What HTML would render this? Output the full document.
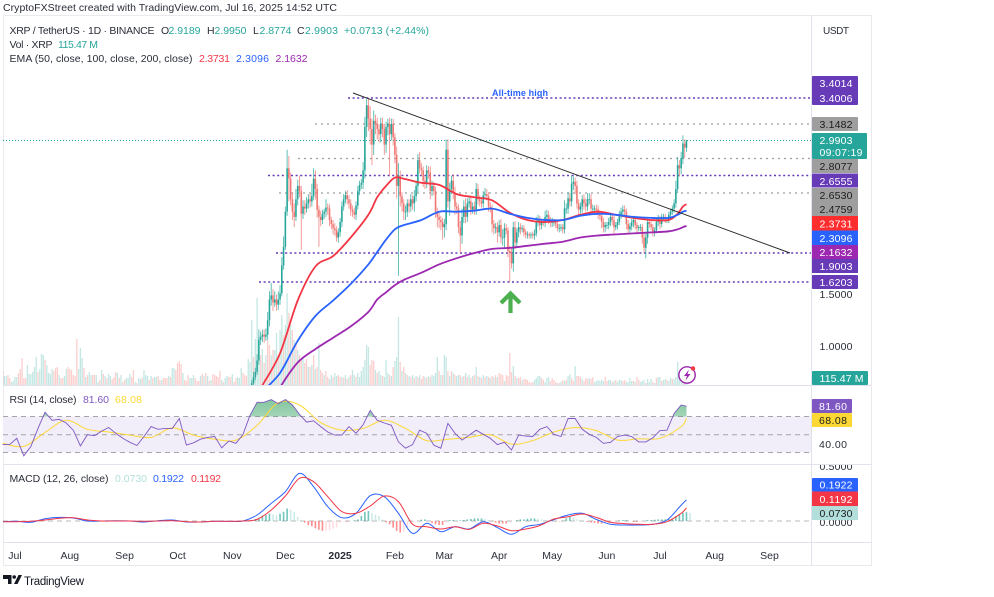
<!DOCTYPE html>
<html lang="en">
<head>
<meta charset="utf-8">
<title>XRP / TetherUS chart</title>
<style>
html,body{margin:0;padding:0;background:#fff;width:994px;height:597px;overflow:hidden}
svg{display:block;font-family:"Liberation Sans",Arial,sans-serif}
text{font-size:10.5px;fill:#2a2e39}
.w{fill:#fff}.k{fill:#1c1c1c}
</style>
</head>
<body>
<svg id="chart" width="994" height="597" viewBox="0 0 994 597" xmlns="http://www.w3.org/2000/svg">
<defs>
<clipPath id="mainClip"><rect x="3" y="15" width="808" height="370"/></clipPath>
<clipPath id="rsiHigh"><rect x="3" y="386" width="808" height="30.5"/></clipPath>
<clipPath id="macdClip"><rect x="3" y="465" width="808" height="77"/></clipPath>
<linearGradient id="rsiGrad" x1="0" y1="0" x2="0" y2="1"><stop offset="0" stop-color="#2e9e5b" stop-opacity=".6"/><stop offset="1" stop-color="#2e9e5b" stop-opacity=".04"/></linearGradient>
</defs>

<text x="3" y="11" textLength="334">CryptoFXStreet created with TradingView.com, Jul 16, 2025 14:52 UTC</text>

<g stroke="#e9e9ee" fill="none">
<path d="M3.5 15.5H871.5V565.5H3.5Z"/>
<path d="M811.5 15.5V565.5" stroke="#e0e3eb"/>
<path d="M3.5 385.5H871.5M3.5 464.5H871.5M3.5 542.5H871.5" stroke="#e0e3eb"/>
</g>

<g id="volG" clip-path="url(#mainClip)"></g>

<g fill="none">
<line x1="348" x2="811" y1="98" y2="98" stroke="#673ab7" stroke-width="1.5" stroke-dasharray="2 2.6"/>
<line x1="315" x2="811" y1="124" y2="124" stroke="#9e9e9e" stroke-width="1.3" stroke-dasharray="2 4"/>
<line x1="3" x2="811" y1="140.5" y2="140.5" stroke="#26a69a" stroke-width="1" stroke-dasharray="1 2"/>
<line x1="298" x2="811" y1="158.5" y2="158.5" stroke="#9e9e9e" stroke-width="1.3" stroke-dasharray="2 4"/>
<line x1="268" x2="811" y1="175.5" y2="175.5" stroke="#673ab7" stroke-width="1.5" stroke-dasharray="2 2.6"/>
<line x1="279" x2="811" y1="193" y2="193" stroke="#9e9e9e" stroke-width="1.3" stroke-dasharray="2 4"/>
<line x1="276" x2="811" y1="253" y2="253" stroke="#673ab7" stroke-width="1.5" stroke-dasharray="2 2.6"/>
<line x1="259" x2="811" y1="282" y2="282" stroke="#673ab7" stroke-width="1.5" stroke-dasharray="2 2.6"/>
</g>
<text x="492" y="96" textLength="56" style="font-size:9px;fill:#2962ff;font-weight:bold">All-time high</text>

<g id="candleG" clip-path="url(#mainClip)"></g>
<g id="emaG" clip-path="url(#mainClip)"></g>

<line x1="353" y1="93" x2="790" y2="253" stroke="#2b2b2b" stroke-width="1"/>
<path d="M510.5 313V294M501 303L510.5 293.5L520 303" fill="none" stroke="#4caf50" stroke-width="4.2"/>

<g>
<circle cx="687" cy="375" r="8.2" fill="#fff" fill-opacity=".7" stroke="#9c27b0" stroke-width="1.4"/>
<path d="M689 369.5L684 376H687L685.5 380.5L690.5 374H687.5Z" fill="#9c27b0"/>
<circle cx="693" cy="368.5" r="2.2" fill="#f23645"/>
</g>

<g>
<rect x="3" y="416.5" width="808" height="36" fill="#f1edf9"/>
<path d="M3 416.5H811M3 434.7H811M3 452.5H811" stroke="#a5a5a5" stroke-dasharray="5 4" fill="none"/>
<g id="rsiG"></g>
</g>

<g>
<line x1="3" x2="811" y1="521" y2="521" stroke="#b8b8b8" stroke-dasharray="5 4"/>
<g id="macdHistG"></g>
<g id="macdG" clip-path="url(#macdClip)"></g>
</g>

<g>
<text x="9.5" y="34" textLength="145">XRP / TetherUS · 1D · BINANCE</text>
<text x="161" y="34">O</text><text x="168.5" y="34" textLength="32" style="fill:#26a69a">2.9189</text>
<text x="207" y="34">H</text><text x="214.5" y="34" textLength="32" style="fill:#26a69a">2.9950</text>
<text x="253" y="34">L</text><text x="259.5" y="34" textLength="32" style="fill:#26a69a">2.8774</text>
<text x="297" y="34">C</text><text x="305" y="34" textLength="33" style="fill:#26a69a">2.9903</text>
<text x="344" y="34" textLength="85" style="fill:#26a69a">+0.0713 (+2.44%)</text>
<text x="9.5" y="48" textLength="43">Vol · XRP</text>
<text x="58" y="48" textLength="40" style="fill:#26a69a">115.47 M</text>
<text x="9.5" y="62" textLength="183">EMA (50, close, 100, close, 200, close)</text>
<text x="199" y="62" textLength="31" style="fill:#f23645">2.3731</text>
<text x="236" y="62" textLength="33" style="fill:#2962ff">2.3096</text>
<text x="275.5" y="62" textLength="32" style="fill:#9c27b0">2.1632</text>
</g>
<g>
<text x="9.5" y="403" textLength="67">RSI (14, close)</text>
<text x="83" y="403" textLength="26" style="fill:#7e57c2">81.60</text>
<text x="115" y="403" textLength="27" style="fill:#fdd835">68.08</text>
</g>
<g>
<text x="9.5" y="482" textLength="99">MACD (12, 26, close)</text>
<text x="115" y="482" textLength="32" style="fill:#b2dfdb">0.0730</text>
<text x="153" y="482" textLength="31" style="fill:#2962ff">0.1922</text>
<text x="191" y="482" textLength="30" style="fill:#f23645">0.1192</text>
</g>

<text x="823" y="34" textLength="26" style="font-size:10px">USDT</text>

<g>
<rect x="812" y="76" width="46" height="29" rx="1" fill="#673ab7"/>
<text class="w" x="819.5" y="87" textLength="33">3.4014</text><text class="w" x="819.5" y="102" textLength="33">3.4006</text>
<rect x="812" y="117" width="46" height="14" rx="1" fill="#9e9e9e"/><text class="k" x="819.5" y="128" textLength="33">3.1482</text>
<rect x="812" y="133" width="55" height="26" rx="1" fill="#26a69a"/><text class="w" x="819.5" y="144" textLength="33">2.9903</text><text class="w" x="819.5" y="156" textLength="43">09:07:19</text>
<rect x="812" y="159" width="46" height="14" fill="#9e9e9e"/><text class="k" x="819.5" y="170" textLength="33">2.8077</text>
<rect x="812" y="173.5" width="46" height="14" fill="#673ab7"/><text class="w" x="819.5" y="185" textLength="33">2.6555</text>
<rect x="812" y="188" width="46" height="28" fill="#9e9e9e"/><text class="k" x="819.5" y="199" textLength="33">2.6530</text><text class="k" x="819.5" y="213" textLength="33">2.4759</text>
<rect x="812" y="216" width="46" height="14.5" fill="#ff2d2d"/><text class="w" x="819.5" y="227.5" textLength="33">2.3731</text>
<rect x="812" y="230.5" width="46" height="14.5" fill="#2962ff"/><text class="w" x="819.5" y="242" textLength="33">2.3096</text>
<rect x="812" y="245" width="46" height="14" fill="#9c27b0"/><text class="w" x="819.5" y="256" textLength="33">2.1632</text>
<rect x="812" y="259" width="46" height="14" fill="#673ab7"/><text class="w" x="819.5" y="270" textLength="33">1.9003</text>
<rect x="812" y="275" width="46" height="14" rx="1" fill="#673ab7"/><text class="w" x="819.5" y="286" textLength="33">1.6203</text>
<text x="819.5" y="298" textLength="33">1.5000</text>
<text x="819.5" y="350" textLength="33">1.0000</text>
<rect x="812" y="371" width="56" height="14" rx="1" fill="#26a69a"/><text class="w" x="819.5" y="382" textLength="44">115.47 M</text>
<rect x="812" y="399" width="40" height="14" rx="1" fill="#7e57c2"/><text class="w" x="819" y="410" textLength="28">81.60</text>
<rect x="812" y="413" width="40" height="14" rx="1" fill="#fdd835"/><text class="k" x="819" y="424" textLength="28">68.08</text>
<text x="819" y="448" textLength="28">40.00</text>
<svg x="812" y="465" width="46" height="12" viewBox="812 465 46 12"><text x="819.5" y="470" textLength="33">0.5000</text></svg>
<text x="819.5" y="526" textLength="33">0.0000</text>
<rect x="812" y="478" width="46" height="13.5" rx="1" fill="#2962ff"/><text class="w" x="819.5" y="488.5" textLength="33">0.1922</text>
<rect x="812" y="491.5" width="46" height="14.5" fill="#f23645"/><text class="w" x="819.5" y="503" textLength="33">0.1192</text>
<rect x="812" y="506" width="46" height="14" fill="#b2dfdb"/><text class="k" x="819.5" y="517" textLength="33">0.0730</text>
</g>

<g id="timeG" text-anchor="middle"></g>

<g>
<path d="M3 575H11.5V584H8V579H3ZM18.5 575H22L17.5 584H14Z" fill="#131722"/><circle cx="14.2" cy="577" r="1.8" fill="#131722"/>
<text x="24" y="585" textLength="60" style="font-size:11.5px;fill:#131722">TradingView</text>
</g>

<script>
// Daily closes, Nov 8 2024 to Jul 16 2025 (one row per month)
const closes = [
.56,.58,.59,.60,.64,.70,.75,.86,1.06,1.09,1.11,1.09,1.11,1.25,1.45,1.49,1.42,1.45,1.40,1.45,1.51,1.78,1.96,
2.30,2.72,2.62,2.42,2.30,2.25,2.42,2.55,2.50,2.28,2.35,2.33,2.38,2.42,2.40,2.45,2.62,2.52,2.32,2.25,2.22,2.28,2.30,2.34,2.33,2.22,2.18,2.14,2.12,2.05,2.10,
2.20,2.35,2.42,2.46,2.42,2.38,2.32,2.30,2.27,2.36,2.50,2.56,2.58,2.70,3.12,3.33,3.20,3.10,2.95,3.18,3.15,3.10,3.05,3.15,3.10,2.95,3.12,3.15,3.05,3.15,3.02,
2.85,2.55,2.65,2.45,2.38,2.30,2.30,2.38,2.35,2.42,2.38,2.45,2.55,2.80,2.72,2.70,2.60,2.58,2.70,2.68,2.50,2.55,2.50,2.30,2.25,2.22,2.20,2.15,
2.18,2.90,2.40,2.52,2.60,2.48,2.35,2.33,2.15,2.07,2.25,2.35,2.25,2.38,2.40,2.32,2.35,2.32,2.52,2.42,2.40,2.38,2.46,2.47,2.45,2.35,2.33,2.18,2.14,2.15,2.10,
2.17,2.05,2.05,2.14,2.12,1.92,1.90,1.80,2.15,2.00,2.10,2.15,2.13,2.14,2.10,2.08,2.08,2.07,2.08,2.07,2.09,2.20,2.22,2.17,2.20,2.19,2.25,2.27,2.22,2.20,
2.20,2.20,2.18,2.14,2.14,2.15,2.13,2.33,2.33,2.43,2.40,2.57,2.59,2.55,2.38,2.32,2.35,2.42,2.38,2.35,2.42,2.42,2.33,2.33,2.33,2.32,2.27,2.26,2.20,2.15,2.17,
2.17,2.20,2.25,2.22,2.15,2.17,2.20,2.27,2.30,2.32,2.30,2.18,2.13,2.16,2.20,2.22,2.17,2.14,2.15,2.15,2.05,1.95,2.05,2.20,2.18,2.15,2.10,2.12,2.20,2.23,
2.18,2.25,2.25,2.22,2.22,2.27,2.30,2.33,2.38,2.52,2.75,2.72,2.82,2.96,2.92,2.9903
];
// Wick above the body, in cents
const upperWicks = [
1,1,1,1,3,5,4,6,10,5,5,5,6,8,8,12,6,8,5,8,8,8,10,
5,18,12,6,6,8,10,6,10,5,6,6,6,5,5,12,10,8,5,4,6,4,3,8,4,4,3,4,5,4,4,
4,5,5,4,5,4,4,4,4,4,5,4,4,8,10,6,6,12,10,10,6,6,5,6,6,5,5,5,6,5,5,
4,8,12,5,4,4,6,4,4,5,4,6,5,6,8,5,4,4,5,4,6,5,4,4,4,4,4,4,
5,10,10,6,5,6,6,4,4,6,8,6,8,5,4,4,4,5,6,5,4,4,4,6,5,4,4,4,4,4,5,
5,6,8,5,4,3,5,5,5,6,4,5,4,3,3,3,3,2,2,3,4,5,5,4,3,3,6,5,4,3,
4,3,3,3,4,3,3,8,5,6,5,8,5,4,5,4,4,4,5,5,6,6,5,4,3,4,4,4,4,4,3,
3,4,4,3,5,3,3,4,4,4,4,3,4,3,3,4,4,3,2,3,3,4,5,4,3,3,3,3,4,4,
3,3,3,3,3,3,3,3,4,8,8,5,6,8,4,.5
];
// Wick below the body, in cents
const lowerWicks = [
1,1,1,1,1,2,3,3,4,5,5,6,4,5,6,6,8,4,6,5,5,3,4,
3,4,22,6,8,10,4,6,6,35,5,6,4,5,6,5,4,10,8,29,6,4,5,5,6,6,5,6,5,4,5,
4,5,4,4,5,5,6,5,4,5,4,4,4,6,8,10,12,15,20,10,10,10,8,8,8,10,8,8,40,6,8,
8,12,87,10,8,8,8,5,6,5,6,8,5,6,5,5,6,6,5,6,8,5,4,6,10,8,8,12,
10,6,6,14,5,6,8,5,6,17,8,6,6,5,4,5,4,5,5,5,5,4,4,4,4,5,4,8,6,5,10,
4,6,8,10,4,6,28,5,8,6,4,5,5,3,4,4,4,3,3,3,4,3,4,5,4,3,4,4,4,5,
5,4,4,3,4,3,4,4,5,5,5,5,6,8,5,6,4,6,6,5,4,5,5,4,4,5,4,4,6,5,5,
4,4,4,5,6,3,4,3,4,4,4,5,5,3,4,5,4,4,3,4,6,5,10,6,4,3,4,4,3,4,
5,3,4,3,3,3,4,3,4,4,4,8,6,6,10,4
];
// Daily volume from Jun 24 2024, in tens of millions; negative marks a down day
const volumes = [
-14,9,9,-10,-7,3,4,8,8,-12,-16,-27,-7,-7,20,11,11,13,18,28,-13,16,31,30,-25,20,12,11,16,-14,-17,-18,10,-7,-7,9,16,-18,-16,-15,-10,-9,
-46,16,37,27,-17,8,-10,13,10,-10,-10,10,3,-5,15,-11,9,-7,11,9,-6,-8,-13,12,-7,10,-3,-5,7,7,11,-8,-15,3,-2,7,6,-7,15,10,9,-5,9,-7,8,8,-9,-5,5,-7,-7,-7,9,-8,17,17,-15,-22,-24,-21,12,-5,-4,-10,7,7,10,-7,-4,-4,9,-11,9,-12,9,-4,5,-11,-10,-9,-8,-14,5,-3,7,9,-8,-8,11,-3,-7,8,7,17,-12,-10,-9,26,23,
65,-28,46,87,48,-30,36,-22,30,-45,-40,30,-35,35,52,-30,55,70,-50,60,92,
-72,60,-55,45,-40,35,-30,-25,28,-22,-26,18,-18,20,-30,16,-18,42,
-15,-12,10,-14,-8,6,10,-8,12,9,-10,-8,8,-7,10,-6,8,-10,
15,10,-8,12,8,14,18,25,40,38,
-20,-25,-24,15,-12,14,10,-9,8,25,12,-10,9,-18,24,
28,68,-23,14,-18,
12,-10,9,-8,10,-7,9,-8,10,-6,-9,8,-7,9,-8,
10,9,12,28,-14,10,-10,30,28,-14,9,-14,12,-10,9,
10,-10,8,-9,12,-8,10,-7,9,-10,18,-9,8,-7,10,-8,9,-8,7,-9,8,-10,8,-12,-11,-10,4,
-10,-9,-32,-13,19,
-9,7,-7,-8,5,-6,-6,-5,-3,-2,-3,5,7,9,9,-7,-5,3,7,8,-4,-7,-5,-3,2,-2,3,-5,4,-5,9,11,-7,-4,19,-9,-9,-8,6,-4,
-7,-6,7,-6,-8,3,4,5,4,5,4,-8,-4,5,5,-3,4,-5,3,5,5,-4,-5,3,3,7,4,-4,3,-8,-5,3,4,5,-2,6,3,6,-3,2,
-7,8,8,-4,5,6,-5,4,7,-6,6,8,23,12,10,14,-9,11.5
];
// EMA readings on these days since Jul 1 2024
const emaDays = [140,150,160,170,180,190,200,205,210,215,220,230,240,250,260,270,280,290,300,310,320,330,340,350,360,370,375,378,380];
const ema50 = [.62,.93,1.44,1.77,1.87,2.05,2.27,2.44,2.55,2.63,2.62,2.58,2.56,2.47,2.44,2.41,2.29,2.22,2.20,2.22,2.27,2.30,2.27,2.24,2.22,2.22,2.28,2.35,2.3731];
const ema100 = [.56,.74,1.05,1.29,1.44,1.60,1.79,1.91,2.03,2.13,2.17,2.22,2.30,2.30,2.31,2.33,2.28,2.24,2.22,2.22,2.26,2.28,2.27,2.25,2.24,2.24,2.27,2.30,2.3096];
const ema200 = [.30,.60,.84,.97,1.08,1.19,1.33,1.45,1.52,1.59,1.64,1.71,1.79,1.85,1.90,1.94,1.95,1.97,1.99,2.01,2.05,2.07,2.08,2.09,2.10,2.11,2.13,2.15,2.1632];
// RSI, one reading every 4 days from Jun 24 2024
const rsiValues = [39,39,46,26.5,37,57,75,66,67,63,55,37.5,50,49,54,58,51.5,46,41.5,38,48,59,56,57,57,68,38.5,41,45,47,48,35.5,43,40.5,50,71.5,86,86,89,84.5,89,83,72.5,64,65.5,59,53,49.5,49.5,59,51.5,61,77,66,63,60.5,42,35,39,55,51.5,38.5,35,62.5,51.5,44,49.5,55,50.5,46,39,41.5,33,49.5,48.5,48,56,59,50.5,48,68,68,56,50.5,47,40.5,41.5,48,49.5,48,42,42,46.5,54.5,55,73.5,83,81.6];
// RSI moving average, one reading every 12 days
const rsiAverage = [40.5,37,52.5,66,56,53,49.5,47,57.5,49.5,45,44,60.5,85.5,83,63.5,55,57,66,57,43.5,45,47,50,39.5,43.5,53,58,54.5,44,45.5,46,59,68.08];
// MACD and signal in thousandths, one reading every 8 days
const macdLine = [-6,-3,-12,21,33,27,0,0,3,0,-9,3,9,-9,-9,-3,-3,0,55,160,267,433,312,130,30,70,230,221,70,-112,-21,-97,-52,-73,-6,-60,-121,-52,-30,12,55,70,15,-30,-36,-36,-30,9,145,192.2];
const signalLine = [-6,-6,-3,9,24,30,9,0,0,0,-3,0,3,-6,-9,-3,-3,0,15,100,227,388,357,221,85,70,136,227,176,-30,-52,-73,-52,-76,-21,-45,-88,-73,-42,18,39,64,33,-12,-24,-30,-30,-6,70,119.2];
// MACD histogram in thousandths, one bar every 2 days from Nov 8 2024
const macdHistogram = [0,0,6,18,30,50,54,66,60,54,66,84,114,102,84,36,6,-15,-36,-48,-66,-80,-90,-88,-84,-72,-60,-15,-6,-6,0,6,15,45,84,90,75,60,45,12,-12,-30,-60,-90,
-105,-100,-60,-30,-10,0,12,15,0,-20,-30,-36,-36,-15,9,9,6,6,9,15,18,24,24,24,18,12,-3,-15,-24,-24,-24,-12,0,9,15,15,21,24,24,21,15,9,6,0,-3,-3,3,24,36,30,15,6,0,-9,-15,-18,-24,-24,-21,-15,-12,-3,6,9,9,0,-9,-9,-6,0,9,9,12,15,15,15,18,24,45,60,75,80,73];
// Time axis
const monthLabels = ["Jul","Aug","Sep","Oct","Nov","Dec","2025","Feb","Mar","Apr","May","Jun","Jul","Aug","Sep"];
const monthDays = [0,31,62,92,123,153,184,215,243,274,304,335,365,396,427];

const SVGNS = "http://www.w3.org/2000/svg";
const FIRST_CANDLE_DAY = 130, FIRST_VOLUME_DAY = -7;
function xOf(day){ return 15 + 1.767 * day; }
function priceY(p){ return 346 - 103.3 * (p - 1); }
function volumeY(v){ return 385 - v; }
function rsiY(v){ return 434.7 - (v - 50) * 0.9; }
function macdY(v){ return 521 - 0.11 * v; }
function make(tag, attrs, parent){
  const el = document.createElementNS(SVGNS, tag);
  for (const k in attrs) el.setAttribute(k, attrs[k]);
  parent.appendChild(el);
  return el;
}
function polyPoints(days, values, yFn){
  return values.map((v, i) => xOf(days(i)).toFixed(1) + "," + yFn(v).toFixed(1)).join(" ");
}
// Smooth line through every reading (Catmull-Rom)
function smoothPath(days, values, yFn){
  const p = values.map((v, i) => [xOf(days(i)), yFn(v)]);
  let d = "M" + p[0][0].toFixed(1) + " " + p[0][1].toFixed(1);
  for (let i = 0; i < p.length - 1; i++) {
    const a = p[Math.max(i - 1, 0)], b = p[i], c = p[i + 1], e = p[Math.min(i + 2, p.length - 1)];
    d += "C" + (b[0] + (c[0] - a[0]) / 6).toFixed(1) + " " + (b[1] + (c[1] - a[1]) / 6).toFixed(1) + " " +
         (c[0] - (e[0] - b[0]) / 6).toFixed(1) + " " + (c[1] - (e[1] - b[1]) / 6).toFixed(1) + " " +
         c[0].toFixed(1) + " " + c[1].toFixed(1);
  }
  return d;
}

const volG = document.getElementById("volG");
volumes.forEach((v, i) => {
  const h = Math.abs(v);
  const bar = make("rect", {x: (xOf(FIRST_VOLUME_DAY + i) - 0.65).toFixed(2), y: volumeY(h), width: 1.3, height: h, fill: v < 0 ? "rgba(239,83,80,.28)" : "rgba(38,166,154,.27)"}, volG);
  
  
});

const candleG = document.getElementById("candleG");
closes.forEach((c, i) => {
  const o = i === 0 ? c : closes[i - 1];
  const top = Math.max(o, c), bot = Math.min(o, c);
  const hi = top + upperWicks[i] / 100, lo = bot - lowerWicks[i] / 100;
  const x = xOf(FIRST_CANDLE_DAY + i);
  const col = c >= o ? "#26a69a" : "#ef7672";
  const wick = make("line", {x1: x.toFixed(2), x2: x.toFixed(2), y1: priceY(hi).toFixed(1), y2: priceY(lo).toFixed(1), stroke: col, "stroke-width": 0.9, "stroke-opacity": 0.8}, candleG);
  
  
  const body = make("rect", {x: (x - 0.8).toFixed(2), y: priceY(top).toFixed(1), width: 1.6, height: Math.max(0.8, priceY(bot) - priceY(top)).toFixed(1), fill: col}, candleG);
  
  
});

const emaG = document.getElementById("emaG");
const emaDay = i => emaDays[i];
const lineEma50 = make("path", {d: smoothPath(emaDay, ema50, priceY), fill: "none", stroke: "#f23645", "stroke-width": 1.8}, emaG);


const lineEma100 = make("path", {d: smoothPath(emaDay, ema100, priceY), fill: "none", stroke: "#2962ff", "stroke-width": 1.8}, emaG);


const lineEma200 = make("path", {d: smoothPath(emaDay, ema200, priceY), fill: "none", stroke: "#9c27b0", "stroke-width": 1.8}, emaG);



const rsiG = document.getElementById("rsiG");
const rsiDay = i => Math.min(-7 + 4 * i, 380);
const rsiPts = polyPoints(rsiDay, rsiValues, rsiY);
const lastRsiDay = rsiDay(rsiValues.length - 1);
const rsiFill = make("polygon", {points: xOf(-7) + "," + rsiY(70) + " " + rsiPts + " " + xOf(lastRsiDay) + "," + rsiY(70), fill: "url(#rsiGrad)", "clip-path": "url(#rsiHigh)"}, rsiG);


const avgDay = i => Math.min(-7 + 12 * i, 380);
const rsiAvgLine = make("path", {d: smoothPath(avgDay, rsiAverage, rsiY), fill: "none", stroke: "#fdd835", "stroke-width": 1}, rsiG);


const rsiLine = make("polyline", {points: rsiPts, fill: "none", stroke: "#7e57c2", "stroke-width": 0.9}, rsiG);



const histG = document.getElementById("macdHistG");
macdHistogram.forEach((v, i) => {
  const prev = i === 0 ? 0 : macdHistogram[i - 1];
  const y0 = macdY(0), y1 = macdY(v);
  let col;
  if (v >= 0) col = v >= prev ? "#26a69a" : "#b2dfdb";
  else col = v <= prev ? "#ff5252" : "#ffcdd2";
  const bar = make("rect", {x: (xOf(130 + 2 * i) - 0.8).toFixed(2), y: Math.min(y0, y1).toFixed(1), width: 1.6, height: Math.abs(y1 - y0).toFixed(1), fill: col, "fill-opacity": 0.65}, histG);
  
  
});
const macdG = document.getElementById("macdG");
const macdDay = i => Math.min(-7 + 8 * i, 380);
const macdPoly = make("path", {d: smoothPath(macdDay, macdLine, macdY), fill: "none", stroke: "#2962ff", "stroke-width": 1}, macdG);


const signalPoly = make("path", {d: smoothPath(macdDay, signalLine, macdY), fill: "none", stroke: "#f23645", "stroke-width": 1}, macdG);



const timeG = document.getElementById("timeG");
monthLabels.forEach((label, i) => {
  const t = make("text", {x: xOf(monthDays[i]).toFixed(1), y: 559}, timeG);
  
  
  t.textContent = label;
  if (label === "2025") t.setAttribute("font-weight", "bold");
});
</script>
</svg>
</body>
</html>
